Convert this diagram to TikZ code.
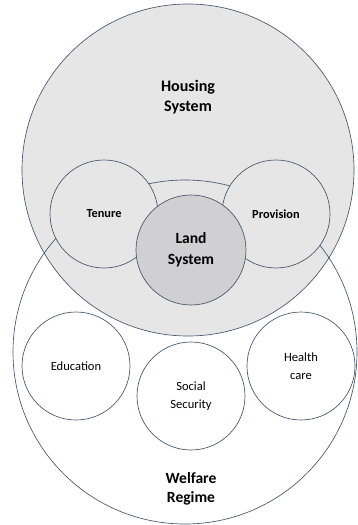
\documentclass[tikz,border=0pt]{standalone}
\usepackage{fontspec}
\setmainfont{Carlito}
\usepackage{tikz}
\usetikzlibrary{shapes, positioning}
\definecolor{rim}{RGB}{68,84,106}
\definecolor{housegray}{RGB}{230,230,230}
\definecolor{landgray}{RGB}{208,207,209}
\tikzstyle{bigsystem} = [circle, minimum size=11.62cm, draw=rim, line width=0.65pt]
\tikzstyle{part} = [circle, minimum size=3.78cm, text centered, draw=rim, line width=0.65pt, fill=housegray, font=\bfseries\fontsize{12.3}{15}\selectfont]
\tikzstyle{landsys} = [circle, minimum size=3.85cm, align=center, draw=rim, line width=0.65pt, fill=landgray, font=\bfseries\fontsize{15.5}{21}\selectfont]
\tikzstyle{service} = [circle, minimum size=3.78cm, align=center, draw=rim, line width=0.65pt, fill=white, font=\fontsize{12.5}{17.5}\selectfont]
\tikzstyle{title} = [align=center, font=\bfseries\fontsize{16}{20}\selectfont]

\begin{document}
\begin{tikzpicture}[node distance=1.54cm]
\useasboundingbox (-6.58,-12.425) rectangle (5.95,5.95);
\node (housing) [bigsystem, fill=housegray] at (0,0) {};
\node (welfare) [bigsystem, minimum size=12.04cm, below of=housing, xshift=-0.105cm, yshift=-4.83cm] {};
\node (tenure) [part, below of=housing, xshift=-2.94cm] {Tenure};
\node (provision) [part, below of=housing, xshift=3.08cm] {Provision};
\node (land) [landsys, below of=housing, xshift=0.105cm, yshift=-1.26cm] {Land\\System};
\node (education) [service, below of=housing, xshift=-3.92cm, yshift=-5.32cm] {Education};
\node (social) [service, below of=housing, xshift=0.105cm, yshift=-6.37cm] {Social\\Security};
\node (health) [service, below of=housing, xshift=3.955cm, yshift=-5.32cm] {Health\\care};
\node (housingtext) [title, above of=housing, yshift=1.015cm] {Housing\\System};
\node (welfaretext) [title, font=\bfseries\fontsize{15.5}{19.5}\selectfont, below of=welfare, xshift=0.21cm, yshift=-3.255cm] {Welfare\\Regime};
\end{tikzpicture}
\end{document}
